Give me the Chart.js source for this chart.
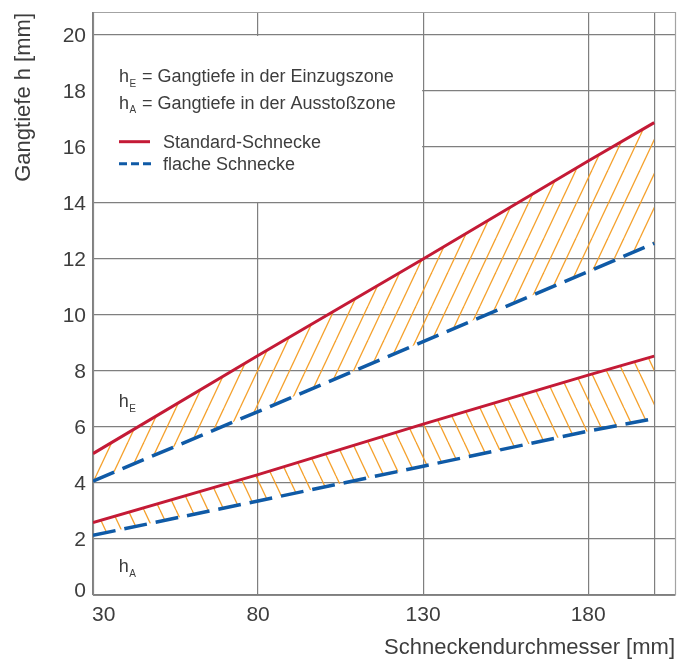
<!DOCTYPE html>
<html>
<head>
<meta charset="utf-8">
<script src="https://cdn.jsdelivr.net/npm/chart.js@4/dist/chart.umd.min.js"></script>
<style>
  html, body { margin: 0; padding: 0; background: #ffffff; }
  #wrap { width: 689px; height: 664px; }
</style>
</head>
<body>
<div id="wrap"><canvas id="c" width="689" height="664"></canvas></div>
<script>
// ---- data ----
const diameters = [30, 80, 130, 180, 200];           // Schneckendurchmesser [mm]
const standardE = [5.05, 8.55, 12.0, 15.5, 16.87];   // Standard-Schnecke, h_E
const flachE    = [4.07, 6.55, 9.05, 11.55, 12.56];  // flache Schnecke, h_E
const standardA = [2.59, 4.3, 6.1, 7.85, 8.53];      // Standard-Schnecke, h_A
const flachA    = [2.13, 3.36, 4.6, 5.85, 6.3];      // flache Schnecke, h_A
const xTickLabels = [30, 80, 130, 180];
const xGridValues = [30, 80, 130, 180, 200];
const yTickLabels = [0, 2, 4, 6, 8, 10, 12, 14, 16, 18, 20];
const xTitle = 'Schneckendurchmesser [mm]';
const yTitle = 'Gangtiefe h [mm]';
const legendLines = [
  { sub: 'E', text: '= Gangtiefe in der Einzugszone' },
  { sub: 'A', text: '= Gangtiefe in der Ausstoßzone' }
];
const seriesNames = ['Standard-Schnecke', 'flache Schnecke'];

const RED = '#c41a36';
const BLUE = '#0f5aa6';
const ORANGE = '#f5a02a';
const GRID = '#7f7f7f';
const TEXT = '#3d3d3d';
const FONT = '"Liberation Sans", Arial, sans-serif';

function toPoints(xs, ys) { return xs.map((x, i) => ({ x: x, y: ys[i] })); }

function hatch(forward) {
  const w = 16, h = 34;
  const cv = document.createElement('canvas');
  cv.width = w; cv.height = h;
  const g = cv.getContext('2d');
  g.strokeStyle = ORANGE;
  g.lineWidth = 1.3;
  for (const off of [-w, 0, w]) {
    g.beginPath();
    if (forward) { g.moveTo(off, h); g.lineTo(off + w, 0); }
    else { g.moveTo(off, 0); g.lineTo(off + w, h); }
    g.stroke();
  }
  return g.createPattern(cv, 'repeat');
}

const decor = {
  id: 'decor',
  beforeDatasetsDraw(chart) {
    const { ctx, chartArea: a, scales: { x, y } } = chart;
    ctx.save();
    // white legend panel (hides inner grid lines)
    const lx0 = x.getPixelForValue(30), lx1 = x.getPixelForValue(130);
    const ly0 = y.getPixelForValue(20), ly1 = y.getPixelForValue(14);
    ctx.fillStyle = '#ffffff';
    ctx.fillRect(lx0 + 1, ly0 + 1, lx1 - lx0 - 2, ly1 - ly0 - 2);
    // plot frame
    ctx.lineWidth = 1.2;
    ctx.strokeStyle = '#a3a3a3';
    ctx.beginPath();
    ctx.moveTo(a.left, a.top + 0.5); ctx.lineTo(a.right + 0.5, a.top + 0.5);
    ctx.lineTo(a.right + 0.5, a.bottom);
    ctx.stroke();
    ctx.strokeStyle = '#888888';
    ctx.beginPath();
    ctx.moveTo(a.left + 0.5, a.top); ctx.lineTo(a.left + 0.5, a.bottom + 0.5);
    ctx.lineTo(a.right + 0.5, a.bottom + 0.5);
    ctx.stroke();

    // legend text
    ctx.fillStyle = TEXT;
    ctx.textBaseline = 'alphabetic';
    ctx.textAlign = 'left';
    const baseY = [82, 108.5];
    legendLines.forEach((l, i) => {
      ctx.font = '18px ' + FONT;
      ctx.fillText('h', 119, baseY[i]);
      ctx.font = '10px ' + FONT;
      ctx.fillText(l.sub, 129.5, baseY[i] + 4.5);
      ctx.font = '18px ' + FONT;
      ctx.fillText(l.text, 142, baseY[i]);
    });
    // series keys
    ctx.lineWidth = 3;
    ctx.strokeStyle = RED;
    ctx.beginPath(); ctx.moveTo(119, 141.7); ctx.lineTo(150, 141.7); ctx.stroke();
    ctx.strokeStyle = BLUE;
    ctx.setLineDash([8, 4]);
    ctx.beginPath(); ctx.moveTo(119, 163.7); ctx.lineTo(151, 163.7); ctx.stroke();
    ctx.setLineDash([]);
    ctx.font = '18px ' + FONT;
    ctx.fillText(seriesNames[0], 163, 148.3);
    ctx.fillText(seriesNames[1], 163, 170);

    // zone labels
    const zx = x.getPixelForValue(37.8);
    [[7.0, 'E'], [1.1, 'A']].forEach(([v, s]) => {
      const py = y.getPixelForValue(v);
      ctx.font = '18px ' + FONT;
      ctx.fillText('h', zx, py + 8);
      ctx.font = '10px ' + FONT;
      ctx.fillText(s, zx + 10.5, py + 13);
    });
    ctx.restore();
  },
  afterDraw(chart) {
    const { ctx, chartArea: a, scales: { x, y } } = chart;
    ctx.save();
    ctx.fillStyle = TEXT;
    ctx.font = '21px ' + FONT;
    // y tick labels
    ctx.textAlign = 'right';
    ctx.textBaseline = 'middle';
    yTickLabels.forEach(v => {
      let py = y.getPixelForValue(v);
      if (v === 0) py -= 5;
      ctx.fillText(String(v), 86, py + 1);
    });
    // x tick labels
    xTickLabels.forEach((v, i) => {
      const px = x.getPixelForValue(v);
      ctx.textAlign = i === 0 ? 'left' : 'center';
      ctx.fillText(String(v), i === 0 ? px - 1 : px, 615);
    });
    // axis titles
    ctx.font = '22px ' + FONT;
    ctx.textAlign = 'right';
    ctx.fillText(xTitle, a.right, 648);
    ctx.translate(24, a.top + 1);
    ctx.rotate(-Math.PI / 2);
    ctx.textAlign = 'right';
    ctx.fillText(yTitle, 0, 0);
    ctx.restore();
  }
};

const ds = (label, ys, color, dashed, fill, bg) => ({
  label: label,
  data: toPoints(diameters, ys),
  borderColor: color,
  borderWidth: dashed ? 3.5 : 3,
  borderDash: dashed ? [23, 9] : [],
  borderCapStyle: 'butt',
  pointRadius: 0,
  pointHoverRadius: 0,
  tension: 0,
  fill: fill,
  backgroundColor: bg || 'transparent'
});

new Chart(document.getElementById('c'), {
  type: 'line',
  data: {
    datasets: [
      ds('Standard-Schnecke h_E', standardE, RED, false, '+1', hatch(true)),
      ds('flache Schnecke h_E', flachE, BLUE, true, false),
      ds('Standard-Schnecke h_A', standardA, RED, false, '+1', hatch(false)),
      ds('flache Schnecke h_A', flachA, BLUE, true, false)
    ]
  },
  options: {
    responsive: false,
    animation: false,
    events: [],
    layout: { padding: { left: 93, top: 12, right: 14, bottom: 69 } },
    plugins: {
      legend: { display: false },
      tooltip: { enabled: false },
      filler: { drawTime: 'beforeDatasetsDraw' }
    },
    scales: {
      x: {
        type: 'linear',
        min: 30,
        max: 206.3,
        afterBuildTicks: s => { s.ticks = xGridValues.map(v => ({ value: v })); },
        ticks: { display: false },
        grid: { color: GRID, lineWidth: 1.2, drawTicks: false },
        border: { display: false }
      },
      y: {
        type: 'linear',
        min: 0,
        max: 20.82,
        afterBuildTicks: s => { s.ticks = yTickLabels.map(v => ({ value: v })); },
        ticks: { display: false },
        grid: { color: GRID, lineWidth: 1.2, drawTicks: false },
        border: { display: false }
      }
    }
  },
  plugins: [decor]
});
</script>
</body>
</html>
